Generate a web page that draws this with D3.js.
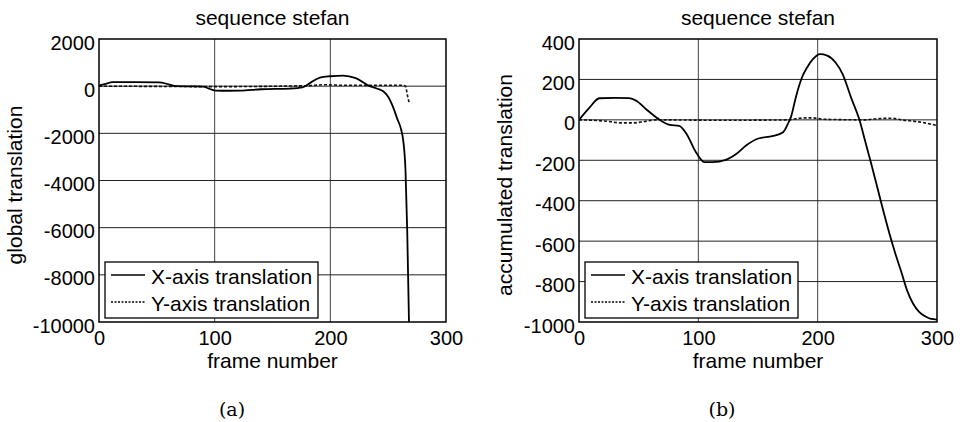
<!DOCTYPE html>
<html>
<head>
<meta charset="utf-8">
<script src="https://cdn.jsdelivr.net/npm/d3@7"></script>
<style>
  body { margin: 0; background: #fff; }
  svg { display: block; }
  text { font-family: "Liberation Sans", Arial, sans-serif; fill: #000; }
</style>
</head>
<body>
<div id="canvas"></div>
<script>
// panel (a): global translation
var globalFrames = [0, 5, 12, 30, 52, 60, 67, 80, 90, 96, 101, 112, 122, 140, 165, 176, 183, 191, 200, 211, 222, 234, 240, 246, 250, 254, 258, 261, 263, 265, 266.5, 268];
var globalX      = [30, 90, 170, 175, 165, 80, 0, -10, -20, -120, -186, -195, -190, -130, -100, -50, 150, 364, 420, 448, 338, 0, -100, -228, -450, -860, -1400, -1800, -2300, -3600, -6200, -10000];
var globalYFrames = [0, 50, 100, 180, 195, 210, 240, 262, 265, 266.5, 268];
var globalY       = [0, -10, -20, 20, 60, 40, 40, 40, 0, -350, -680];

// panel (b): accumulated translation
var accFrames = [0, 9, 17, 30, 42, 48, 56, 67.6, 76, 84, 90, 98, 105, 112, 123, 132, 140, 151, 162, 171, 175, 178, 181, 184, 187, 191, 196, 202, 208, 215, 221, 228, 235, 240, 245, 250, 255, 260, 265, 270, 275, 280, 285, 290, 295, 300];
var accX      = [0, 62, 107, 109, 108, 95, 54, 0, -25, -30, -69, -160, -209, -209, -198, -168, -127, -91, -81, -61, -20, 21, 95, 160, 212, 258, 300, 325, 318, 284, 225, 110, 0, -110, -220, -335, -450, -560, -660, -750, -845, -910, -950, -972, -985, -988];
var accYFrames = [0, 15, 25, 35, 45, 55, 65, 120, 175, 185, 195, 205, 240, 250, 262, 270, 285, 300];
var accY       = [0, -3, -8, -15, -15, -8, 0, -2, 0, 8, 10, 3, 0, 6, 8, 0, -10, -28];

var xTicks = [0, 100, 200, 300];
var globalTicks = [2000, 0, -2000, -4000, -6000, -8000, -10000];
var accTicks = [400, 200, 0, -200, -400, -600, -800, -1000];
var legendLabels = ['X-axis translation', 'Y-axis translation'];

var svg = d3.select('#canvas').append('svg')
    .attr('width', 962)
    .attr('height', 422);

function plain(d) { return String(d); }

function panel(opt) {
    var x = d3.scaleLinear().domain([0, 300]).range([opt.left, opt.right]);
    var y = d3.scaleLinear().domain(opt.yDomain).range([322, 39]);
    var g = svg.append('g');

    g.append('clipPath').attr('id', opt.id)
        .append('rect')
        .attr('x', opt.left).attr('y', 39)
        .attr('width', opt.right - opt.left).attr('height', 322 - 39);

    // grid
    g.selectAll('.vg').data(xTicks.slice(1, -1)).enter().append('line')
        .attr('x1', function(d) { return x(d); })
        .attr('x2', function(d) { return x(d); })
        .attr('y1', 39).attr('y2', 322)
        .attr('stroke', '#444').attr('stroke-width', 1);
    g.selectAll('.hg').data(opt.yTicks.slice(1, -1)).enter().append('line')
        .attr('x1', opt.left).attr('x2', opt.right)
        .attr('y1', function(d) { return y(d); })
        .attr('y2', function(d) { return y(d); })
        .attr('stroke', '#222').attr('stroke-width', 1);

    var line = d3.line()
        .x(function(d) { return x(d[0]); })
        .y(function(d) { return y(d[1]); })
        .curve(d3.curveMonotoneX);

    var plot = g.append('g').attr('clip-path', 'url(#' + opt.id + ')');
    plot.append('path')
        .datum(d3.zip(opt.yFrames, opt.ySeries))
        .attr('d', line)
        .attr('fill', 'none').attr('stroke', '#111')
        .attr('stroke-width', 1.6).attr('stroke-dasharray', '3,2');
    plot.append('path')
        .datum(d3.zip(opt.xFrames, opt.xSeries))
        .attr('d', line)
        .attr('fill', 'none').attr('stroke', '#000')
        .attr('stroke-width', 1.8);

    // box
    g.append('rect')
        .attr('x', opt.left).attr('y', 39)
        .attr('width', opt.right - opt.left).attr('height', 322 - 39)
        .attr('fill', 'none').attr('stroke', '#000').attr('stroke-width', 1.5);

    // axes labels
    var ax = g.append('g').attr('transform', 'translate(0,322)')
        .call(d3.axisBottom(x).tickValues(xTicks).tickSize(0).tickPadding(0).tickFormat(plain));
    ax.select('.domain').remove();
    ax.selectAll('text').attr('font-size', 20).attr('dy', 23)
        .attr('font-family', '"Liberation Sans", Arial, sans-serif').attr('fill', '#000');

    var ay = g.append('g').attr('transform', 'translate(' + (opt.left - 4) + ',0)')
        .call(d3.axisLeft(y).tickValues(opt.yTicks).tickSize(0).tickPadding(0).tickFormat(plain));
    ay.select('.domain').remove();
    ay.selectAll('text').attr('font-size', 20).attr('dy', 10)
        .attr('font-family', '"Liberation Sans", Arial, sans-serif').attr('fill', '#000');

    var cx = (opt.left + opt.right) / 2;
    g.append('text').attr('x', cx).attr('y', 25)
        .attr('text-anchor', 'middle').attr('font-size', 21).text('sequence stefan');
    g.append('text').attr('x', cx).attr('y', 368)
        .attr('text-anchor', 'middle').attr('font-size', 21).text('frame number');
    g.append('text')
        .attr('transform', 'translate(' + opt.yLabelX + ',185) rotate(-90)')
        .attr('text-anchor', 'middle').attr('font-size', 21).text(opt.yLabel);
    g.append('text').attr('x', opt.capX).attr('y', 416)
        .attr('text-anchor', 'middle').attr('font-size', 19)
        .style('font-family', '"DejaVu Serif", "Liberation Serif", serif')
        .text(opt.caption);

    // legend
    var lg = g.append('g').attr('transform', 'translate(' + (opt.left + 6) + ',262)');
    lg.append('rect').attr('width', 213).attr('height', 56)
        .attr('fill', '#fff').attr('stroke', '#000').attr('stroke-width', 1.3);
    lg.selectAll('line').data(legendLabels).enter().append('line')
        .attr('x1', 6).attr('x2', 40)
        .attr('y1', function(d, i) { return 13 + i * 27; })
        .attr('y2', function(d, i) { return 13 + i * 27; })
        .attr('stroke', '#000').attr('stroke-width', 1.5)
        .attr('stroke-dasharray', function(d, i) { return i ? '2,1.5' : null; });
    lg.selectAll('text').data(legendLabels).enter().append('text')
        .attr('x', 46)
        .attr('y', function(d, i) { return 22 + i * 27; })
        .attr('font-size', 21)
        .text(function(d) { return d; });
}

panel({
    id: 'clipA', left: 99, right: 446,
    yDomain: [-10000, 2000], yTicks: globalTicks,
    xFrames: globalFrames, xSeries: globalX,
    yFrames: globalYFrames, ySeries: globalY,
    yLabel: 'global translation', yLabelX: 22,
    caption: '(a)', capX: 232
});

panel({
    id: 'clipB', left: 579, right: 937,
    yDomain: [-1000, 400], yTicks: accTicks,
    xFrames: accFrames, xSeries: accX,
    yFrames: accYFrames, ySeries: accY,
    yLabel: 'accumulated translation', yLabelX: 512,
    caption: '(b)', capX: 722
});
</script>
</body>
</html>
